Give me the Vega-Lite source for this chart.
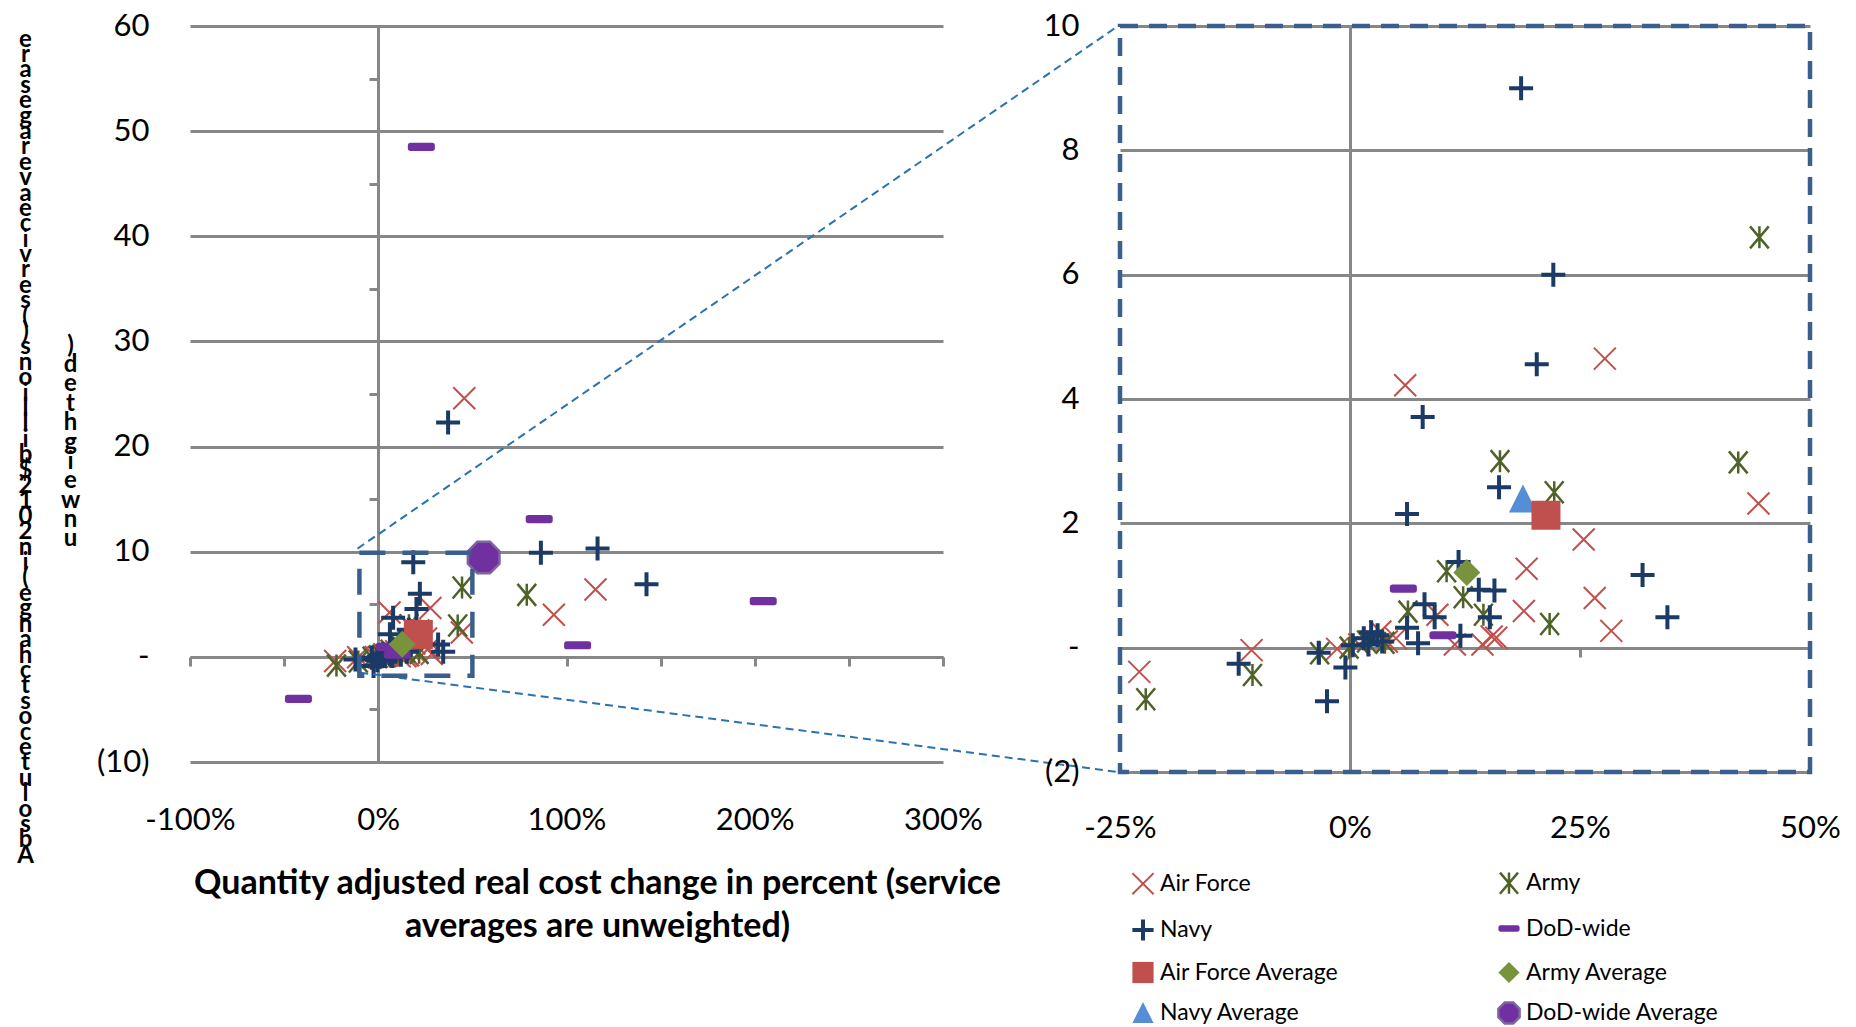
{
  "$schema": "https://vega.github.io/schema/vega-lite/v6.json",
  "background": "white",
  "padding": {"left": 16, "top": 10, "right": 10, "bottom": 5},
  "bounds": "flush",
  "spacing": 177,
  "resolve": {"legend": {"fill": "independent", "stroke": "independent", "shape": "independent", "strokeWidth": "independent", "size": "independent"}},
  "datasets": {
    "pts": [
      {"series": "Air Force", "pct": 45.7, "cost": 24.6},
      {"series": "Air Force", "pct": 115.4, "cost": 6.4},
      {"series": "Air Force", "pct": 93.3, "cost": 4.0},
      {"series": "Air Force", "pct": 27.7, "cost": 4.65},
      {"series": "Air Force", "pct": 6.0, "cost": 4.22},
      {"series": "Air Force", "pct": 44.4, "cost": 2.32},
      {"series": "Air Force", "pct": 25.4, "cost": 1.74},
      {"series": "Air Force", "pct": 19.2, "cost": 1.27},
      {"series": "Air Force", "pct": 26.6, "cost": 0.8},
      {"series": "Air Force", "pct": 18.9, "cost": 0.59},
      {"series": "Air Force", "pct": 28.4, "cost": 0.27},
      {"series": "Air Force", "pct": 15.4, "cost": 0.18},
      {"series": "Air Force", "pct": 15.9, "cost": 0.16},
      {"series": "Air Force", "pct": 14.4, "cost": 0.05},
      {"series": "Air Force", "pct": 11.4, "cost": 0.05},
      {"series": "Air Force", "pct": 9.5, "cost": 0.53},
      {"series": "Air Force", "pct": 5.0, "cost": 0.15},
      {"series": "Air Force", "pct": 4.0, "cost": 0.1},
      {"series": "Air Force", "pct": 3.3, "cost": 0.26},
      {"series": "Air Force", "pct": -1.4, "cost": -0.02},
      {"series": "Air Force", "pct": -10.7, "cost": -0.04},
      {"series": "Air Force", "pct": -22.9, "cost": -0.39},
      {"series": "Air Force", "pct": 1.0, "cost": 0.05},
      {"series": "Army", "pct": 44.5, "cost": 6.6},
      {"series": "Army", "pct": 78.9, "cost": 5.9},
      {"series": "Army", "pct": 42.2, "cost": 2.98},
      {"series": "Army", "pct": 16.3, "cost": 3.0},
      {"series": "Army", "pct": 22.2, "cost": 2.5},
      {"series": "Army", "pct": 21.7, "cost": 0.38},
      {"series": "Army", "pct": 10.5, "cost": 1.23},
      {"series": "Army", "pct": 12.3, "cost": 0.81},
      {"series": "Army", "pct": 14.5, "cost": 0.53},
      {"series": "Army", "pct": 6.3, "cost": 0.58},
      {"series": "Army", "pct": -3.3, "cost": -0.09},
      {"series": "Army", "pct": -10.6, "cost": -0.44},
      {"series": "Army", "pct": -22.2, "cost": -0.83},
      {"series": "Army", "pct": -0.1, "cost": 0.0},
      {"series": "Army", "pct": 1.8, "cost": 0.1},
      {"series": "Army", "pct": 3.8, "cost": 0.08},
      {"series": "Navy", "pct": 37.1, "cost": 22.3},
      {"series": "Navy", "pct": 86.4, "cost": 9.9},
      {"series": "Navy", "pct": 116.5, "cost": 10.3},
      {"series": "Navy", "pct": 142.5, "cost": 6.9},
      {"series": "Navy", "pct": 18.6, "cost": 9.0},
      {"series": "Navy", "pct": 22.1, "cost": 6.0},
      {"series": "Navy", "pct": 20.3, "cost": 4.56},
      {"series": "Navy", "pct": 7.9, "cost": 3.71},
      {"series": "Navy", "pct": 16.2, "cost": 2.58},
      {"series": "Navy", "pct": 6.2, "cost": 2.15},
      {"series": "Navy", "pct": 31.8, "cost": 1.17},
      {"series": "Navy", "pct": 34.5, "cost": 0.49},
      {"series": "Navy", "pct": 11.8, "cost": 1.38},
      {"series": "Navy", "pct": 14.0, "cost": 0.93},
      {"series": "Navy", "pct": 15.7, "cost": 0.92},
      {"series": "Navy", "pct": 8.1, "cost": 0.7},
      {"series": "Navy", "pct": 9.2, "cost": 0.49},
      {"series": "Navy", "pct": 15.2, "cost": 0.49},
      {"series": "Navy", "pct": 6.2, "cost": 0.32},
      {"series": "Navy", "pct": 7.4, "cost": 0.07},
      {"series": "Navy", "pct": 12.0, "cost": 0.19},
      {"series": "Navy", "pct": -12.1, "cost": -0.26},
      {"series": "Navy", "pct": -3.4, "cost": -0.08},
      {"series": "Navy", "pct": -0.5, "cost": -0.32},
      {"series": "Navy", "pct": -2.5, "cost": -0.86},
      {"series": "Navy", "pct": 0.3, "cost": 0.04},
      {"series": "Navy", "pct": 1.5, "cost": 0.15},
      {"series": "Navy", "pct": 2.3, "cost": 0.25},
      {"series": "Navy", "pct": 3.0, "cost": 0.2},
      {"series": "Navy", "pct": 3.5, "cost": 0.1},
      {"series": "Navy", "pct": 2.0, "cost": 0.05},
      {"series": "DoD-wide", "pct": 22.9, "cost": 48.5},
      {"series": "DoD-wide", "pct": 85.5, "cost": 13.1},
      {"series": "DoD-wide", "pct": 204.5, "cost": 5.3},
      {"series": "DoD-wide", "pct": 105.9, "cost": 1.1},
      {"series": "DoD-wide", "pct": -42.4, "cost": -4.0},
      {"series": "DoD-wide", "pct": 5.8, "cost": 0.95},
      {"series": "DoD-wide", "pct": 10.1, "cost": 0.2},
      {"series": "Navy Average", "pct": 18.8, "cost": 2.4},
      {"series": "Air Force Average", "pct": 21.3, "cost": 2.13},
      {"series": "Army Average", "pct": 12.7, "cost": 1.21},
      {"series": "DoD-wide Average", "pct": 56.0, "cost": 9.45}
    ]
  },
  "hconcat": [
    {
      "width": 753,
      "height": 736,
      "resolve": {"axis": {"x": "independent", "y": "independent"}},
      "layer": [
        {
          "data": {"name": "pts"},
          "mark": {"type": "point", "opacity": 1},
          "encoding": {
            "x": {"field": "pct", "type": "quantitative",
              "scale": {"domain": [-100, 300], "nice": false, "zero": false},
              "axis": {"orient": "bottom", "values": [-100, 0, 100, 200, 300], "labelExpr": "datum.value + '%'",
                "domain": false, "ticks": false, "grid": false, "labelPadding": 43,
                "title": ["Quantity adjusted real cost change in percent  (service", "averages are unweighted)"],
                "titleFont": "Lato", "titleFontWeight": "bold", "titleFontSize": 34, "titleLineHeight": 43,
                "titleX": 407, "titleY": 121, "titleAlign": "center", "titleBaseline": "middle", "titleColor": "#000"}},
            "y": {"field": "cost", "type": "quantitative",
              "scale": {"domain": [-10, 60], "nice": false, "zero": false},
              "axis": {"orient": "left", "values": [-10, 0, 10, 20, 30, 40, 50, 60],
                "labelExpr": "datum.value == 0 ? '-' : (datum.value < 0 ? '(' + (-datum.value) + ')' : '' + datum.value)",
                "domain": false, "ticks": false, "grid": true, "gridColor": "#878787", "gridWidth": 3, "labelPadding": 41,
                "title": [")", "d", "e", "t", "h", "g", "i", "e", "w", "n", "u"],
                "titleAngle": 0, "titleX": -120, "titleY": 319, "titleAlign": "center", "titleBaseline": "middle",
                "titleFont": "Lato", "titleFontWeight": "bold", "titleFontSize": 24, "titleLineHeight": 19.4, "titleColor": "#000"}},
            "shape": {"field": "series", "type": "nominal", "legend": null,
              "scale": {"domain": ["Air Force", "Army", "Navy", "DoD-wide", "Air Force Average", "Army Average", "Navy Average", "DoD-wide Average"],
                "range": ["M-1,-1L1,1M-1,1L1,-1", "M-0.85,-1L0.85,1M-0.85,1L0.85,-1M0,-1L0,1", "M-1,0L1,0M0,-1L0,1", "M-0.8,-0.3L0.8,-0.3Q1,-0.3,1,-0.1L1,0.1Q1,0.3,0.8,0.3L-0.8,0.3Q-1,0.3,-1,0.1L-1,-0.1Q-1,-0.3,-0.8,-0.3Z", "square", "diamond", "M0,-1L1,1L-1,1Z", "M-0.4,-1L0.4,-1L1,-0.4L1,0.4L0.4,1L-0.4,1L-1,0.4L-1,-0.4Z"]}},
            "fill": {"field": "series", "type": "nominal", "legend": null,
              "scale": {"domain": ["Air Force", "Army", "Navy", "DoD-wide", "Air Force Average", "Army Average", "Navy Average", "DoD-wide Average"],
                "range": ["transparent", "transparent", "transparent", "#7030A0", "#C0504D", "#77933C", "#558ED5", "#7030A0"]}},
            "stroke": {"field": "series", "type": "nominal", "legend": null,
              "scale": {"domain": ["Air Force", "Army", "Navy", "DoD-wide", "Air Force Average", "Army Average", "Navy Average", "DoD-wide Average"],
                "range": ["#C0504D", "#4F6228", "#1B3A66", "#7030A0", "#C0504D", "#77933C", "#558ED5", "#8064A2"]}},
            "strokeWidth": {"field": "series", "type": "nominal", "legend": null,
              "scale": {"type": "ordinal", "domain": ["Air Force", "Army", "Navy", "DoD-wide", "Air Force Average", "Army Average", "Navy Average", "DoD-wide Average"],
                "range": [2, 2.5, 4, 0, 0, 0, 0, 2.5]}},
            "size": {"field": "series", "type": "nominal", "legend": null,
              "scale": {"type": "ordinal", "domain": ["DoD-wide Average", "Navy Average", "Army Average", "Air Force Average", "DoD-wide", "Navy", "Army", "Air Force"],
                "range": [1000, 784, 729, 841, 729, 576, 484, 484]}}
          }
        },
        {
          "data": {"values": [
            {"line": "top", "pct": -11, "cost": 10.3},
            {"line": "top", "pct": 393, "cost": 60},
            {"line": "bottom", "pct": -9.6, "cost": -1.5},
            {"line": "bottom", "pct": 393, "cost": -10.95}
          ]},
          "mark": {"type": "line", "stroke": "#2B72AE", "strokeWidth": 2, "strokeDash": [8, 5], "clip": false},
          "encoding": {
            "x": {"field": "pct", "type": "quantitative", "scale": {"domain": [-100, 300], "nice": false, "zero": false}, "axis": null},
            "y": {"field": "cost", "type": "quantitative", "scale": {"domain": [-10, 60], "nice": false, "zero": false}, "axis": null},
            "detail": {"field": "line", "type": "nominal"}
          }
        },
        {
          "data": {"values": [{"x1": -10, "x2": 50, "y1": -1.8, "y2": 9.9}]},
          "mark": {"type": "rect", "filled": false, "stroke": "#3B5F8C", "strokeWidth": 4.5, "strokeDash": [26, 17]},
          "encoding": {
            "x": {"field": "x1", "type": "quantitative", "scale": {"domain": [-100, 300], "nice": false, "zero": false},
              "axis": {"orient": "bottom", "offset": -105, "values": [-100, -50, 0, 50, 100, 150, 200, 250, 300], "labels": false,
                "domain": true, "domainColor": "#878787", "domainWidth": 3, "ticks": true, "tickColor": "#878787", "tickWidth": 3, "tickSize": 9,
                "grid": false, "title": null}},
            "x2": {"field": "x2"},
            "y": {"field": "y1", "type": "quantitative", "scale": {"domain": [-10, 60], "nice": false, "zero": false},
              "axis": {"orient": "left", "offset": -188, "values": [-10, -5, 0, 5, 10, 15, 20, 25, 30, 35, 40, 45, 50, 55, 60], "labels": false,
                "domain": true, "domainColor": "#878787", "domainWidth": 3, "ticks": true, "tickColor": "#878787", "tickWidth": 3, "tickSize": 9,
                "grid": false,
                "title": ["e", "r", "a", "s", "e", "g", "a", "r", "e", "v", "a", "e", "c", "i", "v", "r", "e", "s", "(", ")", "s", "n", "o", "i", "l", "l", "i", "b", "$", "2", "1", "0", "2", "n", "i", "(", "e", "g", "n", "a", "h", "c", "t", "s", "o", "c", "e", "t", "u", "l", "o", "s", "b", "A"],
                "titleAngle": 0, "titleX": -353, "titleY": 13, "titleAlign": "center", "titleBaseline": "middle",
                "titleFont": "Lato", "titleFontWeight": "bold", "titleFontSize": 24, "titleLineHeight": 15.4, "titleColor": "#000"}},
            "y2": {"field": "y2"}
          }
        }
      ]
    },
    {
      "width": 690,
      "height": 746,
      "resolve": {"axis": {"x": "independent", "y": "independent"}},
      "layer": [
        {
          "data": {"name": "pts"},
          "mark": {"type": "point", "opacity": 1, "clip": true},
          "encoding": {
            "x": {"field": "pct", "type": "quantitative",
              "scale": {"domain": [-25, 50], "nice": false, "zero": false},
              "axis": {"orient": "bottom", "values": [-25, 0, 25, 50], "labelExpr": "datum.value + '%'",
                "domain": false, "ticks": false, "grid": false, "labelPadding": 41, "title": null}},
            "y": {"field": "cost", "type": "quantitative",
              "scale": {"domain": [-2, 10], "nice": false, "zero": false},
              "axis": {"orient": "left", "values": [-2, 0, 2, 4, 6, 8, 10],
                "labelExpr": "datum.value == 0 ? '-' : (datum.value < 0 ? '(' + (-datum.value) + ')' : '' + datum.value)",
                "domain": false, "ticks": false, "grid": true, "gridColor": "#878787", "gridWidth": 3, "labelPadding": 41, "title": null}},
            "shape": {"field": "series", "type": "nominal",
              "legend": {"title": null, "orient": "none", "legendX": 10, "legendY": 845, "columns": 2, "direction": "horizontal"},
              "scale": {"domain": ["Air Force", "Army", "Navy", "DoD-wide", "Air Force Average", "Army Average", "Navy Average", "DoD-wide Average"],
                "range": ["M-1,-1L1,1M-1,1L1,-1", "M-0.85,-1L0.85,1M-0.85,1L0.85,-1M0,-1L0,1", "M-1,0L1,0M0,-1L0,1", "M-0.8,-0.3L0.8,-0.3Q1,-0.3,1,-0.1L1,0.1Q1,0.3,0.8,0.3L-0.8,0.3Q-1,0.3,-1,0.1L-1,-0.1Q-1,-0.3,-0.8,-0.3Z", "square", "diamond", "M0,-1L1,1L-1,1Z", "M-0.4,-1L0.4,-1L1,-0.4L1,0.4L0.4,1L-0.4,1L-1,0.4L-1,-0.4Z"]}},
            "fill": {"field": "series", "type": "nominal",
              "legend": {"title": null, "orient": "none", "legendX": 10, "legendY": 845, "columns": 2, "direction": "horizontal"},
              "scale": {"domain": ["Air Force", "Army", "Navy", "DoD-wide", "Air Force Average", "Army Average", "Navy Average", "DoD-wide Average"],
                "range": ["transparent", "transparent", "transparent", "#7030A0", "#C0504D", "#77933C", "#558ED5", "#7030A0"]}},
            "stroke": {"field": "series", "type": "nominal",
              "legend": {"title": null, "orient": "none", "legendX": 10, "legendY": 845, "columns": 2, "direction": "horizontal"},
              "scale": {"domain": ["Air Force", "Army", "Navy", "DoD-wide", "Air Force Average", "Army Average", "Navy Average", "DoD-wide Average"],
                "range": ["#C0504D", "#4F6228", "#1B3A66", "#7030A0", "#C0504D", "#77933C", "#558ED5", "#8064A2"]}},
            "strokeWidth": {"field": "series", "type": "nominal",
              "legend": {"title": null, "orient": "none", "legendX": 10, "legendY": 845, "columns": 2, "direction": "horizontal"},
              "scale": {"type": "ordinal", "domain": ["Air Force", "Army", "Navy", "DoD-wide", "Air Force Average", "Army Average", "Navy Average", "DoD-wide Average"],
                "range": [2, 2.5, 4, 0, 0, 0, 0, 2.5]}},
            "size": {"field": "series", "type": "nominal", "legend": null,
              "scale": {"type": "ordinal", "domain": ["DoD-wide Average", "Navy Average", "Army Average", "Air Force Average", "DoD-wide", "Navy", "Army", "Air Force"],
                "range": [1000, 784, 729, 841, 729, 576, 484, 484]}}
          }
        },
        {
          "data": {"values": [{"x1": -25, "x2": 50, "y1": -2, "y2": 10}]},
          "mark": {"type": "rect", "filled": false, "stroke": "#3B5F8C", "strokeWidth": 4.5, "strokeDash": [18, 11]},
          "encoding": {
            "x": {"field": "x1", "type": "quantitative", "scale": {"domain": [-25, 50], "nice": false, "zero": false},
              "axis": {"orient": "bottom", "offset": -124, "values": [-25, 0, 25, 50], "labels": false,
                "domain": true, "domainColor": "#878787", "domainWidth": 3, "ticks": true, "tickColor": "#878787", "tickWidth": 3, "tickSize": 9,
                "grid": false, "title": null}},
            "x2": {"field": "x2"},
            "y": {"field": "y1", "type": "quantitative", "scale": {"domain": [-2, 10], "nice": false, "zero": false},
              "axis": {"orient": "left", "offset": -230, "values": [-2, 0, 2, 4, 6, 8, 10], "labels": false,
                "domain": true, "domainColor": "#878787", "domainWidth": 3, "ticks": false,
                "grid": false, "title": null}},
            "y2": {"field": "y2"}
          }
        }
      ]
    }
  ],
  "config": {
    "view": {"stroke": null},
    "font": "Lato",
    "axis": {"labelFont": "Lato", "labelFontSize": 31, "labelColor": "#000", "labelFlush": false, "labelOverlap": false, "labelBound": false},
    "legend": {"symbolSize": 450, "labelFont": "Lato", "labelFontSize": 23, "labelColor": "#000", "rowPadding": 12, "columnPadding": 154, "labelOffset": 4, "padding": 0, "labelLimit": 400}
  }
}
